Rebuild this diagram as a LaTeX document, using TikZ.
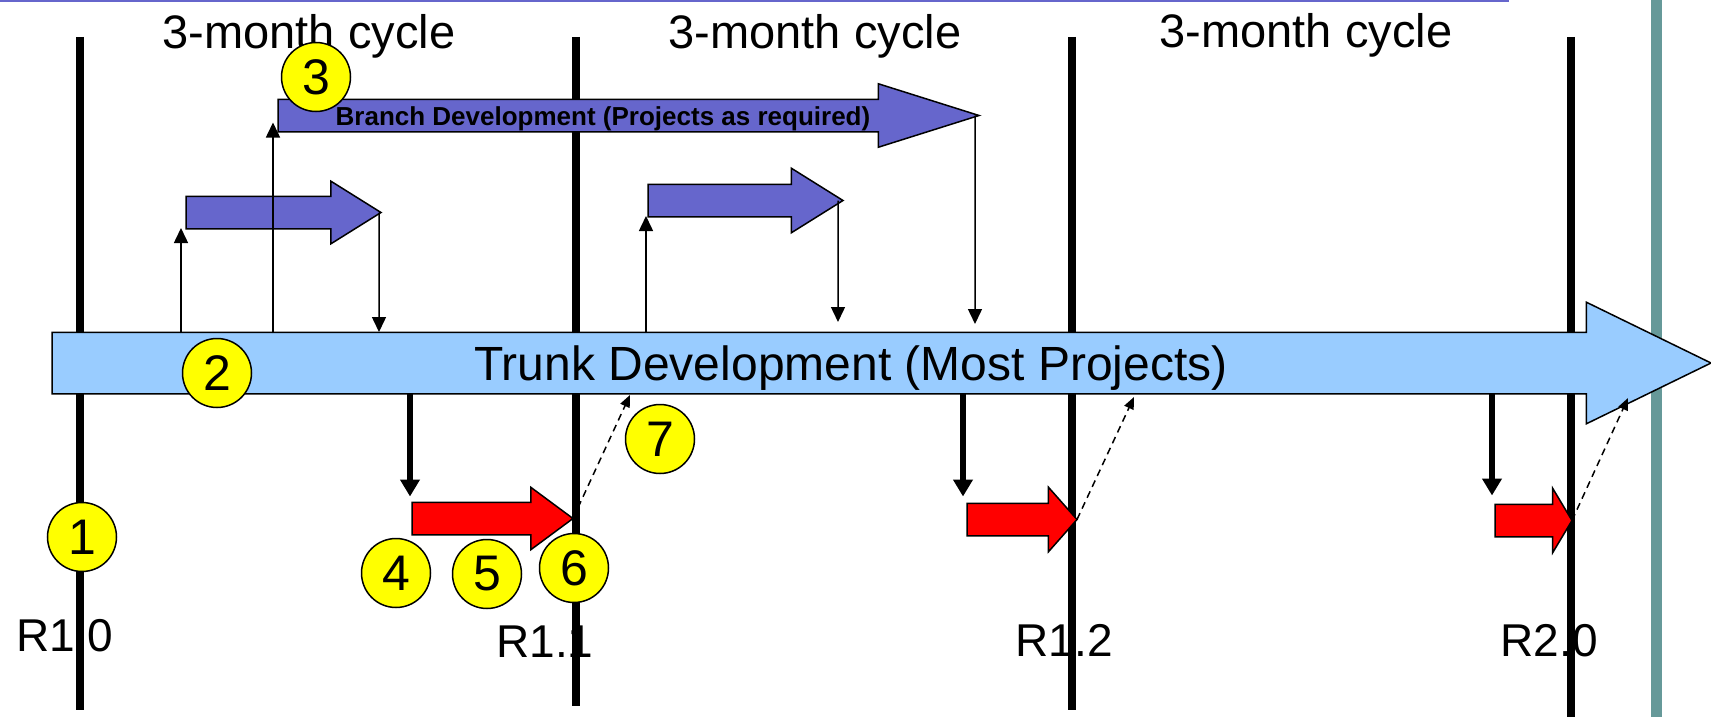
\documentclass[tikz,border=0pt]{standalone}
\usepackage{fontspec}
\setmainfont{Liberation Sans}
\usetikzlibrary{shapes.arrows,arrows.meta}
\definecolor{trunkblue}{HTML}{99CCFF}
\definecolor{branchblue}{HTML}{6666CC}
\definecolor{fixred}{HTML}{FF0000}
\definecolor{markeryellow}{HTML}{FFFF00}
\definecolor{slideteal}{HTML}{669999}
\tikzset{
  release/.style={line width=8pt},
  relname/.style={anchor=base, font=\fontsize{46}{46}\selectfont},
  cyclename/.style={anchor=base, font=\fontsize{47}{47}\selectfont},
  blockarrow/.style={single arrow, draw, line width=1.5pt, inner xsep=0pt,
    outer sep=0pt, minimum width=1pt, anchor=tail},
  marker/.style={circle, draw, fill=markeryellow, line width=1.5pt,
    minimum size=69pt, inner sep=0pt, font=\fontsize{50}{50}\selectfont},
  link/.style={-{Triangle[length=15pt,width=14pt]}, line width=1.5pt},
  cut/.style={-{Triangle[length=17pt,width=19pt]}, line width=6pt},
  merge/.style={-{Triangle[length=12pt,width=10pt]}, line width=1.5pt,
    dash pattern=on 7pt off 5pt}
}
\begin{document}
\begin{tikzpicture}[x=1pt, y=-1pt]
  \useasboundingbox (0,0) rectangle (1711,717);
  % slide frame
  \draw[branchblue, line width=2pt] (0,1) -- (1509,1);
  \fill[slideteal] (1651,0) rectangle (1662,717);
  % releases
  \draw[release] (80,37) -- (80,710) (576,37) -- (576,706)
    (1072,37) -- (1072,710) (1571,37) -- (1571,717);
  \node[relname] (r10) at (65,651) {R1.0};
  \node[relname] (r11) at (545,657) {R1.1};
  \node[relname] (r12) at (1064,656) {R1.2};
  \node[relname] (r20) at (1549,656) {R2.0};
  \node[cyclename] (cyc1) at (309,49) {3-month cycle};
  \node[cyclename] (cyc2) at (815,49) {3-month cycle};
  \node[cyclename] (cyc3) at (1306,48) {3-month cycle};
  % trunk
  \node[blockarrow, fill=trunkblue, minimum height=1659pt, inner ysep=30pt,
    single arrow head extend=30pt, single arrow tip angle=52] (trunk) at (52,363) {};
  \node[anchor=base, font=\fontsize{48}{48}\selectfont] (trunktext) at (851,380)
    {Trunk Development (Most Projects)};
  % branches
  \node[blockarrow, fill=branchblue, minimum height=701pt, inner ysep=15.5pt,
    single arrow head extend=15.5pt, single arrow tip angle=35] (b0) at (278,115.5) {};
  \node[anchor=base, font=\fontsize{26}{26}\selectfont\bfseries] (b0text) at (603,125)
    {Branch Development (Projects as required)};
  \node[blockarrow, fill=branchblue, minimum height=195pt, inner ysep=15.5pt,
    single arrow head extend=15pt, single arrow tip angle=64] (b1) at (186,212.5) {};
  \node[blockarrow, fill=branchblue, minimum height=195pt, inner ysep=15.5pt,
    single arrow head extend=16pt, single arrow tip angle=64] (b2) at (648,200.5) {};
  % fixes
  \node[blockarrow, fill=fixred, minimum height=161pt, inner ysep=15.5pt,
    single arrow head extend=15pt, single arrow tip angle=73] (f1) at (412,518.5) {};
  \node[blockarrow, fill=fixred, minimum height=110pt, inner ysep=15.5pt,
    single arrow head extend=16pt, single arrow tip angle=97] (f2) at (967,519.5) {};
  \node[blockarrow, fill=fixred, minimum height=77pt, inner ysep=15.5pt,
    single arrow head extend=16pt, single arrow tip angle=118] (f3) at (1495,520.5) {};
  \begin{scope}[link]
    \draw ([xshift=129pt,yshift=30pt]trunk.tail) -- ([xshift=-5pt,yshift=-15.5pt]b1.tail);
    \draw ([xshift=221pt,yshift=30pt]trunk.tail) -- ([xshift=-5pt,yshift=-7pt]b0.tail);
    \draw ([xshift=-2pt]b1.tip) -- ([xshift=327pt,yshift=31pt]trunk.tail);
    \draw ([xshift=594pt,yshift=30pt]trunk.tail) -- ([xshift=-2pt,yshift=-15.5pt]b2.tail);
    \draw ([xshift=-5pt]b2.tip) -- ([xshift=786pt,yshift=41pt]trunk.tail);
    \draw ([xshift=-4pt]b0.tip) -- ([xshift=923pt,yshift=39pt]trunk.tail);
  \end{scope}
  \draw[cut] ([xshift=358pt,yshift=-30pt]trunk.tail) -- ([xshift=-2pt,yshift=22pt]f1.tail);
  \draw[cut] ([xshift=911pt,yshift=-30pt]trunk.tail) -- ([xshift=-4pt,yshift=23pt]f2.tail);
  \draw[cut] ([xshift=1440pt,yshift=-30pt]trunk.tail) -- ([xshift=-3pt,yshift=25pt]f3.tail);
  \draw[merge] (f1.tip) -- ([xshift=578pt,yshift=-32pt]trunk.tail);
  \draw[merge] (f2.tip) -- ([xshift=1082pt,yshift=-34pt]trunk.tail);
  \draw[merge] (f3.tip) -- ([xshift=1576pt,yshift=-35pt]trunk.tail);
  % markers
  \node[marker] (m1) at (82,537) {1};
  \node[marker] (m2) at (217,373) {2};
  \node[marker] (m3) at (316,77) {3};
  \node[marker] (m4) at (396,573) {4};
  \node[marker] (m5) at (487,574) {5};
  \node[marker] (m6) at (574,568) {6};
  \node[marker] (m7) at (660,439) {7};
\end{tikzpicture}
\end{document}
